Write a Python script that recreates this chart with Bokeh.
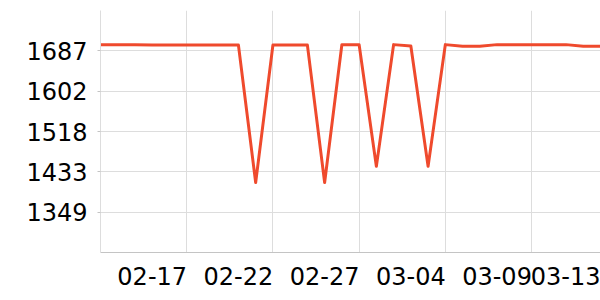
from bokeh.plotting import figure
from bokeh.models import FixedTicker, Range1d
from bokeh.embed import file_html
from bokeh.resources import INLINE

dates = ["02-12", "02-13", "02-14", "02-15", "02-16", "02-17", "02-18", "02-19",
         "02-20", "02-21", "02-22", "02-23", "02-24", "02-25", "02-26", "02-27",
         "02-28", "03-01", "03-02", "03-03", "03-04", "03-05", "03-06", "03-07",
         "03-08", "03-09", "03-10", "03-11", "03-12", "03-13"]
values = [1700, 1700, 1700, 1699, 1699, 1699, 1699, 1699,
          1699, 1411, 1699, 1699, 1699, 1411, 1700, 1700,
          1445, 1700, 1697, 1445, 1700, 1696.5, 1696.5, 1700,
          1700, 1700, 1700, 1700, 1696.5, 1696.5]

x_tick_labels = ["02-17", "02-22", "02-27", "03-04", "03-09", "03-13"]
y_ticks = [1349, 1433.5, 1518, 1602.5, 1687]
y_tick_labels = ["1349", "1433", "1518", "1602", "1687"]
y_min, y_max = 1264.5, 1771.5

xs = list(range(len(dates)))
grid_pos = [dates.index(t) for t in x_tick_labels]
label_shift = 2.0  # labels sit to the left of their tick (right-aligned look)
label_pos = [g - label_shift for g in grid_pos]

FONT = "DejaVu Sans"
LINE = "#ef4a2d"

p = figure(width=600, height=300, output_backend="svg", toolbar_location=None,
           x_range=Range1d(0, len(dates) - 1), y_range=Range1d(y_min, y_max),
           min_border_left=100, min_border_right=0, min_border_top=10,
           min_border_bottom=48)
p.outline_line_color = None
p.background_fill_color = "white"
p.border_fill_color = "white"

p.line(xs, values, line_color=LINE, line_width=3, line_join="round")

# x axis
p.xaxis.ticker = FixedTicker(ticks=label_pos)
p.xaxis.major_label_overrides = {pos: lab for pos, lab in zip(label_pos, x_tick_labels)}
p.xaxis.major_tick_line_color = None
p.xaxis.minor_tick_line_color = None
p.xaxis.axis_line_color = "#c4c4c4"
p.xaxis.major_label_text_font = FONT
p.xaxis.major_label_text_font_size = "24px"
p.xaxis.major_label_text_color = "black"
p.xaxis.major_label_standoff = 8
p.xgrid.ticker = FixedTicker(ticks=[0] + grid_pos)
p.xgrid.grid_line_color = "#dddddd"

# y axis
p.yaxis.ticker = FixedTicker(ticks=y_ticks)
p.yaxis.major_label_overrides = {v: lab for v, lab in zip(y_ticks, y_tick_labels)}
p.yaxis.axis_line_color = "#dddddd"
p.yaxis.major_tick_line_color = "#c4c4c4"
p.yaxis.major_tick_out = 3
p.yaxis.major_tick_in = 0
p.yaxis.minor_tick_line_color = None
p.yaxis.major_label_text_font = FONT
p.yaxis.major_label_text_font_size = "24px"
p.yaxis.major_label_text_color = "black"
p.yaxis.major_label_standoff = 10
p.ygrid.ticker = FixedTicker(ticks=y_ticks)
p.ygrid.grid_line_color = "#dddddd"

open("out.html", "w").write(file_html(p, INLINE))
